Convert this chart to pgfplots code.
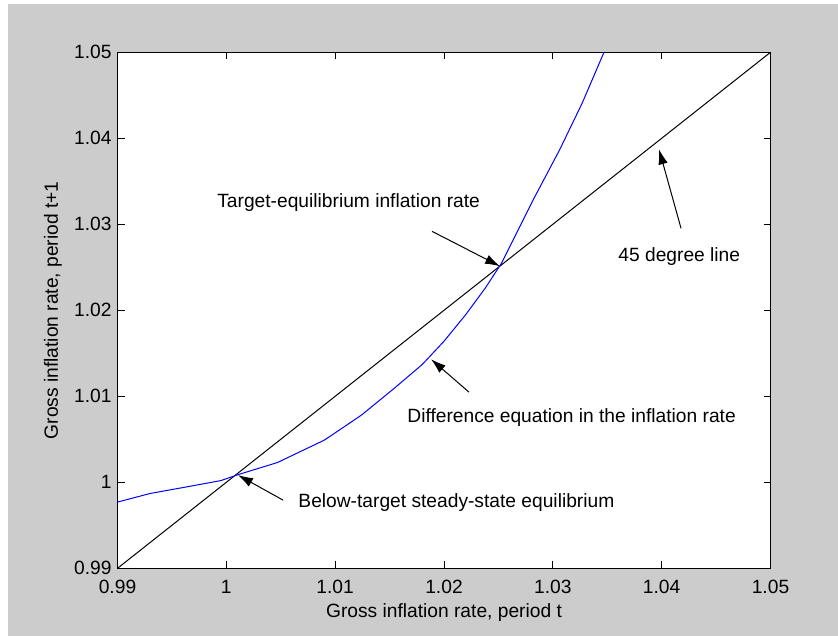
\documentclass[border=0pt]{standalone}
\usepackage{pgfplots}
\pgfplotsset{compat=1.18}
\usepackage{fontspec}
\setmainfont{Liberation Sans}
\usetikzlibrary{arrows.meta}
\definecolor{figgray}{RGB}{204,204,204}
\begin{document}
\fontsize{9.6bp}{11.5bp}\selectfont
\begin{tikzpicture}[font=\fontsize{9.6bp}{11.5bp}\selectfont]
\fill[white] (0,0) rectangle (419bp,318bp);
\fill[figgray] (4bp,0) rectangle (419bp,316bp);
\begin{axis}[
  at={(58.75bp,33.85bp)}, anchor=south west,
  width=326.5bp, height=258bp, scale only axis,
  xmin=0.99, xmax=1.05, ymin=0.99, ymax=1.05,
  xtick={0.99,1,1.01,1.02,1.03,1.04,1.05},
  ytick={0.99,1,1.01,1.02,1.03,1.04,1.05},
  xticklabels={0.99,1,1.01,1.02,1.03,1.04,1.05},
  yticklabels={0.99,1,1.01,1.02,1.03,1.04,1.05},
  tick align=inside, major tick length=3.5bp,
  tick style={black, line width=0.5bp},
  axis line style={line width=0.7bp},
  axis background/.style={fill=white},
  /pgf/number format/assume math mode=true,
  xticklabel style={anchor=center, yshift=-9.25bp},
  yticklabel style={anchor=east, inner sep=0pt, xshift=-2.75bp},
  xlabel={Gross inflation rate, period t},
  ylabel={Gross inflation rate, period t+1},
  xlabel style={at={(axis description cs:0.5,-0.0866)}, anchor=center},
  ylabel style={at={(axis description cs:-0.0988,0.5)}, anchor=center},
]
\addplot[black, line width=0.5bp] coordinates {(0.99,0.99) (1.05,1.05)};
\addplot[blue, line width=0.5bp] coordinates {
 (0.99,0.9977) (0.993,0.9987) (0.9965,0.9995) (0.9995,1.0002) (1.0011,1.0009)
 (1.0047,1.0023) (1.0090,1.0049) (1.0124,1.0078) (1.0154,1.0109) (1.0180,1.0137)
 (1.0200,1.0164) (1.0220,1.0195) (1.0238,1.0226) (1.0253,1.0255) (1.0283,1.0331) (1.0306,1.0386)
 (1.0327,1.0441) (1.0347,1.0500)};
\node[anchor=west, inner sep=0pt] at (axis cs:0.99914,1.03255) {Target-equilibrium inflation rate};
\node[anchor=west, inner sep=0pt] at (axis cs:1.03599,1.02628) {45 degree line};
\node[anchor=west, inner sep=0pt] at (axis cs:1.01660,1.00758) {Difference equation in the inflation rate};
\node[anchor=west, inner sep=0pt] at (axis cs:1.00659,0.99759) {Below-target steady-state equilibrium};
\draw[line width=0.5bp, -{Latex[length=7.5bp,width=4.8bp]}] (axis cs:1.01890,1.02918) -- (axis cs:1.02515,1.02512);
\draw[line width=0.5bp, -{Latex[length=7.5bp,width=4.8bp]}] (axis cs:1.04178,1.02953) -- (axis cs:1.03976,1.03871);
\draw[line width=0.5bp, -{Latex[length=7.5bp,width=4.8bp]}] (axis cs:1.02230,1.01048) -- (axis cs:1.01881,1.01431);
\draw[line width=0.5bp, -{Latex[length=7.5bp,width=4.8bp]}] (axis cs:1.00521,0.99793) -- (axis cs:1.00107,1.00084);
\end{axis}
\end{tikzpicture}
\end{document}
